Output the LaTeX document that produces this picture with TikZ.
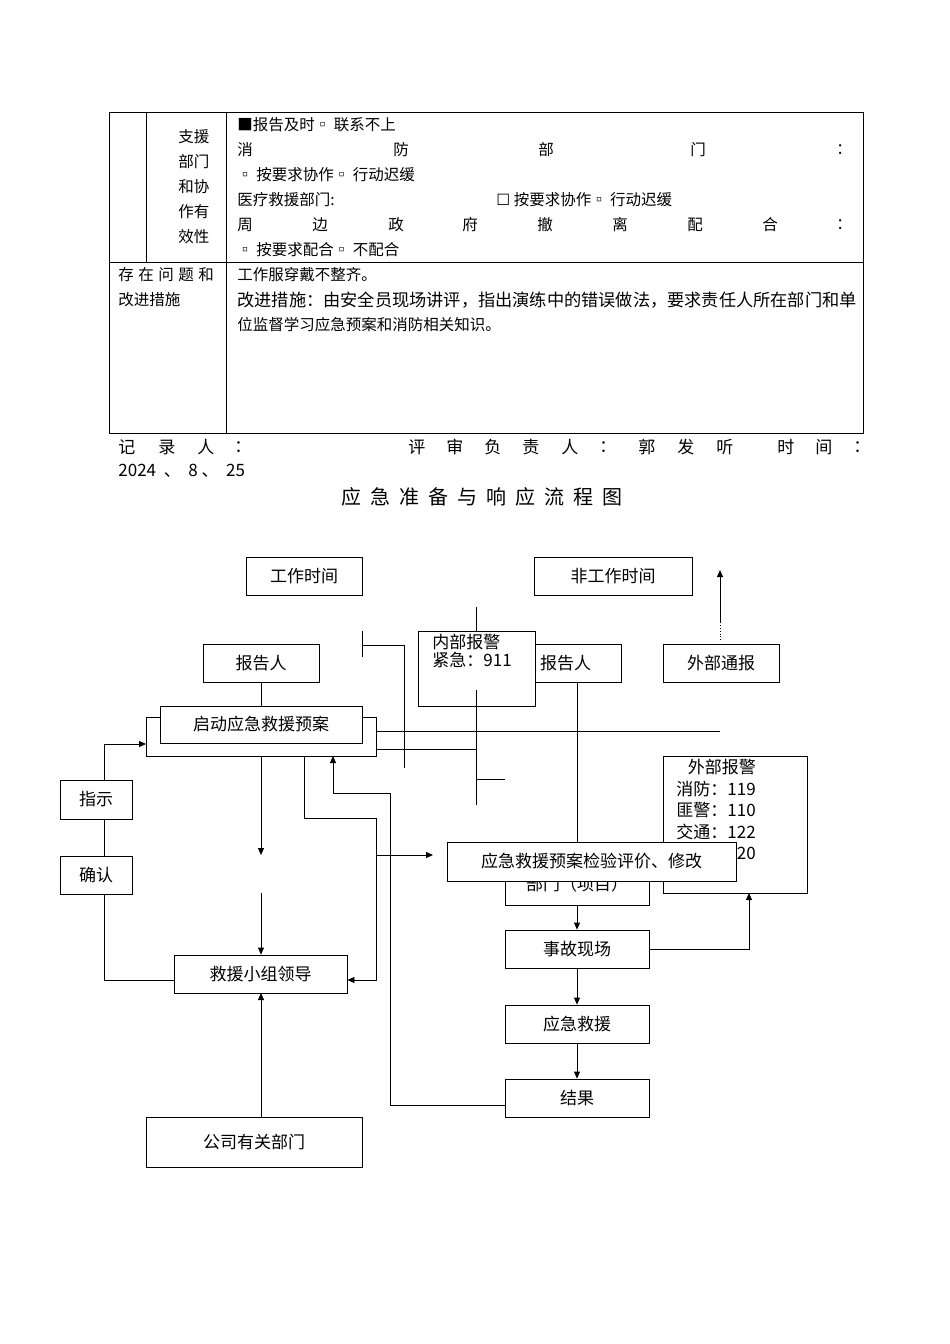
\documentclass[tikz,border=0pt]{standalone}
\usepackage{fontspec}
\setmainfont{Noto Sans CJK SC}
\newfontfamily\dv{DejaVu Sans}
\usetikzlibrary{arrows.meta}
\begin{document}
\begin{tikzpicture}[x=1pt,y=-1pt,line width=0.8pt,
  box/.style={draw,fill=white,inner sep=0pt,font=\fontsize{17}{20}\selectfont},
  t/.style={anchor=west,inner sep=0pt,font=\fontsize{15.5}{18}\selectfont},
  arr/.style={-{Triangle[length=7pt,width=6pt]}}]
\useasboundingbox (0,0) rectangle (950,1344);
% table
\draw (109,112) rectangle (863,433);
\draw (109,262) -- (863,262);
\draw (146,112) -- (146,262);
\draw (226,112) -- (226,433);
\foreach \s/\y in {支援/137,部门/162,和协/187,作有/212,效性/237}
  \node[t] at (178,\y) {\s};
\node[t] at (237,125) {■报告及时▫ 联系不上};
\foreach \s/\x in {消/237,防/393,部/538,门/690,：/836}
  \node[t] at (\x,150) {\s};
\node[t] at (237,175) {▫ 按要求协作▫ 行动迟缓};
\node[t] at (237,200) {医疗救援部门:};
\node[t] at (496,200) {{\dv ☐} 按要求协作▫ 行动迟缓};
\foreach \s/\x in {周/237,边/312,政/388,府/462,撤/537,离/612,配/687,合/762,：/836}
  \node[t] at (\x,225) {\s};
\node[t] at (237,250) {▫ 按要求配合▫ 不配合};
\foreach \s/\x in {存/118,在/138,问/158,题/178,和/198}
  \node[t] at (\x,275) {\s};
\node[t] at (118,300) {改进措施};
\node[t] at (237,275) {工作服穿戴不整齐。};
\node[t,font=\fontsize{17.2}{18}\selectfont] at (237,300) {改进措施：由安全员现场讲评，指出演练中的错误做法，要求责任人所在部门和单};
\node[t] at (237,325) {位监督学习应急预案和消防相关知识。};
\foreach \s/\x in {记/118,录/158,人/197,：/234,评/408,审/446,负/484,责/522,人/561,：/599,郭/638,发/677,听/716,时/777,间/815,：/853}
  \node[t,font=\fontsize{17}{18}\selectfont] at (\x,447) {\s};
\node[t,font=\fontsize{17}{18}\selectfont] at (118,471) {2024 \ 、\ \ 8 、\ \ 25};
\node[inner sep=0pt,font=\fontsize{20}{22}\selectfont] (title) at (482,497) {应\ \ 急\ \ 准\ \ 备\ \ 与\ \ 响\ \ 应\ \ 流\ \ 程\ \ 图};
% flowchart lines behind
\draw (476,607) -- (476,805);
\draw (362,631) -- (362,657);
\draw (362,645) -- (404,645) -- (404,768);
\draw (146,717) rectangle (376,756);
\draw (376,731) -- (720,731);
\draw (376,749) -- (476,749);
\draw (476,779) -- (505,779);
\draw[dotted] (720,640) -- (720,620);
\draw[arr] (720,622) -- (720,570);
% boxes
\node[box,minimum width=116pt,minimum height=38pt] (work) at (304,576) {工作时间};
\node[box,minimum width=158pt,minimum height=38pt] (nowork) at (613,576) {非工作时间};
\node[box,minimum width=116pt,minimum height=38pt] (rep1) at (261,663) {报告人};
\node[box,minimum width=86pt,minimum height=38pt,anchor=west,text width=82pt,align=left] (rep2) at (535,663) {\,报告人};
\node[box,minimum width=117pt,minimum height=75pt] (inner) at (476.5,668.5) {};
\node[inner sep=0pt,anchor=north west,font=\fontsize{17}{20}\selectfont,align=left] at (432,634) {内部报警\\[-2pt]紧急：911};
\draw (476,690) -- (476,706);
\node[box,minimum width=116pt,minimum height=38pt] (extn) at (721,663) {外部通报};
\node[box,minimum width=202pt,minimum height=37pt] (start) at (261,724.5) {启动应急救援预案};
\draw (rep1) -- (start);
\draw (577,682) -- (577,870);
\node[box,minimum width=144pt,minimum height=137pt] (ext) at (735,824.5) {};
\node[inner sep=0pt,anchor=north west,font=\fontsize{17}{21.5}\selectfont,align=left] at (676,759) {\ \ \ 外部报警\\消防：119\\匪警：110\\交通：122\\急救：120};
\node[box,minimum width=144pt,minimum height=50pt] (dept) at (577,880) {};
\node[inner sep=0pt,font=\fontsize{17}{20}\selectfont] at (577,884) {部门（项目）};
\node[box,minimum width=289pt,minimum height=39pt] (eval) at (591.5,861.5) {应急救援预案检验评价、修改};
\node[box,minimum width=144pt,minimum height=38pt] (site) at (577,949) {事故现场};
\node[box,minimum width=144pt,minimum height=38pt] (resc) at (577,1024) {应急救援};
\node[box,minimum width=144pt,minimum height=38pt] (res) at (577,1098) {结果};
\node[box,minimum width=72pt,minimum height=39pt] (zhi) at (96,799.5) {指示};
\node[box,minimum width=72pt,minimum height=38pt] (que) at (96,875) {确认};
\node[box,minimum width=173pt,minimum height=38pt] (lead) at (260.5,974) {救援小组领导};
\node[box,minimum width=216pt,minimum height=50pt] (comp) at (254,1142) {公司有关部门};
% connectors
\draw[arr] (dept) -- (site);
\draw[arr] (site) -- (resc);
\draw[arr] (resc) -- (res);
\draw[arr] (site.east) -- (749,949) -- (749,893);
\draw[arr] (zhi.north -| 104,0) -- (104,744) -- (146,744);
\draw (zhi.south -| 104,0) -- (que.north -| 104,0);
\draw (que.south -| 104,0) -- (104,980) -- (lead.west |- 0,980);
\draw[arr] (261,756) -- (261,855);
\draw[arr] (261,893) -- (lead.north -| 261,0);
\draw[arr] (comp.north -| 261,0) -- (261,993);
\draw[arr] (304,756) -- (304,818) -- (376,818) -- (376,980) -- (lead.east |- 0,980);
\draw[arr] (res.west |- 0,1105) -- (390,1105) -- (390,793) -- (333,793) -- (333,756);
\draw[arr] (376,855) -- (433,855);
\end{tikzpicture}
\end{document}
